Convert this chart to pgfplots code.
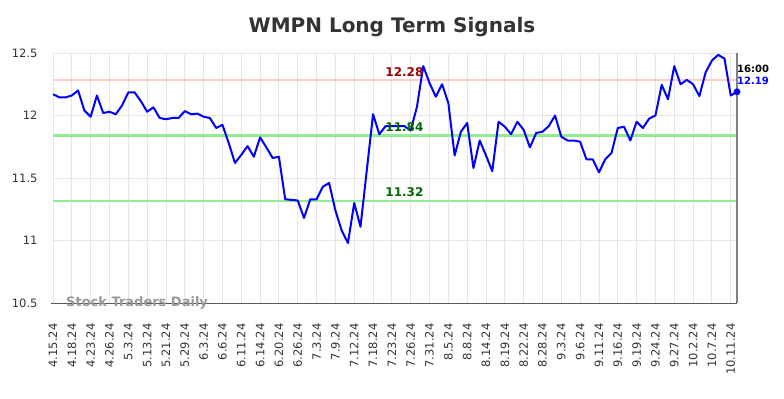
\documentclass[border=0pt]{standalone}
\usepackage{pgfplots}
\pgfplotsset{compat=1.18}
\usepackage{fontspec}
\setmainfont{DejaVu Sans}
\definecolor{gridgray}{HTML}{E6E6E6}
\definecolor{lvlred}{HTML}{FFCCCC}
\definecolor{lvlgreen}{HTML}{90EE90}
\definecolor{txtred}{HTML}{990000}
\definecolor{txtgreen}{HTML}{006600}
\definecolor{titlegray}{HTML}{333333}
\definecolor{wmgray}{HTML}{999999}
\pgfplotstableread{
i v
0 12.17
1 12.145
2 12.145
3 12.16
4 12.20
5 12.04
6 11.99
7 12.16
8 12.02
9 12.03
10 12.01
11 12.08
12 12.185
13 12.185
14 12.115
15 12.03
16 12.065
17 11.98
18 11.97
19 11.98
20 11.98
21 12.035
22 12.01
23 12.015
24 11.99
25 11.98
26 11.90
27 11.925
28 11.78
29 11.62
30 11.685
31 11.755
32 11.67
33 11.825
34 11.745
35 11.66
36 11.67
37 11.33
38 11.325
39 11.32
40 11.18
41 11.33
42 11.33
43 11.43
44 11.46
45 11.24
46 11.08
47 10.98
48 11.30
49 11.11
50 11.56
51 12.01
52 11.85
53 11.915
54 11.915
55 11.915
56 11.915
57 11.88
58 12.07
59 12.395
60 12.26
61 12.15
62 12.25
63 12.10
64 11.68
65 11.87
66 11.94
67 11.58
68 11.80
69 11.68
70 11.555
71 11.95
72 11.91
73 11.85
74 11.95
75 11.885
76 11.745
77 11.86
78 11.87
79 11.915
80 12.0
81 11.83
82 11.80
83 11.80
84 11.79
85 11.65
86 11.65
87 11.545
88 11.65
89 11.70
90 11.90
91 11.91
92 11.80
93 11.95
94 11.90
95 11.975
96 12.0
97 12.245
98 12.13
99 12.395
100 12.25
101 12.285
102 12.25
103 12.155
104 12.345
105 12.44
106 12.485
107 12.455
108 12.16
109 12.19
}\prices
\begin{document}
\begin{tikzpicture}[x=1bp,y=1bp]
\path[use as bounding box] (0,0) rectangle (784,398);
\node[font=\fontsize{20bp}{24bp}\selectfont\bfseries, text=titlegray] at (392,371) {WMPN Long Term Signals};
\begin{axis}[
  at={(53bp,95bp)}, anchor=south west,
  scale only axis, width=684bp, height=250bp,
  xmin=0, xmax=109, ymin=10.5, ymax=12.5,
  axis line style={draw=none},
  major tick length=0pt,
  grid=major,
  grid style={color=gridgray, line width=0.9bp},
  ytick={10.5,11,11.5,12,12.5},
  yticklabels={10.5,11,11.5,12,12.5},
  xtick={0,3,...,108},
  xticklabels={4.15.24,4.18.24,4.23.24,4.26.24,5.3.24,5.13.24,5.21.24,5.29.24,6.3.24,6.6.24,6.11.24,6.14.24,6.20.24,6.26.24,7.3.24,7.9.24,7.12.24,7.18.24,7.23.24,7.26.24,7.31.24,8.5.24,8.8.24,8.14.24,8.19.24,8.22.24,8.28.24,9.3.24,9.6.24,9.11.24,9.16.24,9.19.24,9.24.24,9.27.24,10.2.24,10.7.24,10.11.24},
  xticklabel style={rotate=90, anchor=east, font=\fontsize{11.5bp}{13bp}\selectfont, text=titlegray},
  yticklabel style={font=\fontsize{11.5bp}{13bp}\selectfont, text=titlegray},
  xticklabel shift=17bp,
  yticklabel shift=12bp,
  clip=false,
]
\addplot[draw=lvlred, line width=2bp, forget plot] coordinates {(0,12.28) (109,12.28)};
\addplot[draw=lvlgreen, line width=2bp, forget plot] coordinates {(0,11.84) (109,11.84)};
\addplot[draw=lvlgreen, line width=2bp, forget plot] coordinates {(0,11.32) (109,11.32)};
\draw[color=black!65, line width=1bp] (axis cs:-0.3,10.5) -- (axis cs:109,10.5);
\draw[color=black!50, line width=1.8bp] (axis cs:109,10.5) -- (axis cs:109,12.5);
\addplot[color=blue, line width=2bp, mark=none, line join=round] table[x=i, y=v] {\prices};
\addplot[color=blue, only marks, mark=*, mark size=3.2bp] coordinates {(109,12.19)};
\node[font=\fontsize{12bp}{14bp}\selectfont\bfseries, text=txtred, yshift=8bp] at (axis cs:56,12.28) {12.28};
\node[font=\fontsize{12bp}{14bp}\selectfont\bfseries, text=txtgreen, yshift=8bp] at (axis cs:56,11.84) {11.84};
\node[font=\fontsize{12bp}{14bp}\selectfont\bfseries, text=txtgreen, yshift=8bp] at (axis cs:56,11.32) {11.32};
\node[font=\fontsize{10bp}{12bp}\selectfont\bfseries, text=black, anchor=west, inner sep=0pt] at (axis cs:109,12.376) {16:00};
\node[font=\fontsize{10bp}{12bp}\selectfont\bfseries, text=blue, anchor=west, inner sep=0pt] at (axis cs:109,12.274) {12.19};
\end{axis}
\node[font=\fontsize{13bp}{15bp}\selectfont\bfseries, text=wmgray, anchor=west, inner sep=0pt] at (66,95.5) {Stock Traders Daily};
\end{tikzpicture}
\end{document}
